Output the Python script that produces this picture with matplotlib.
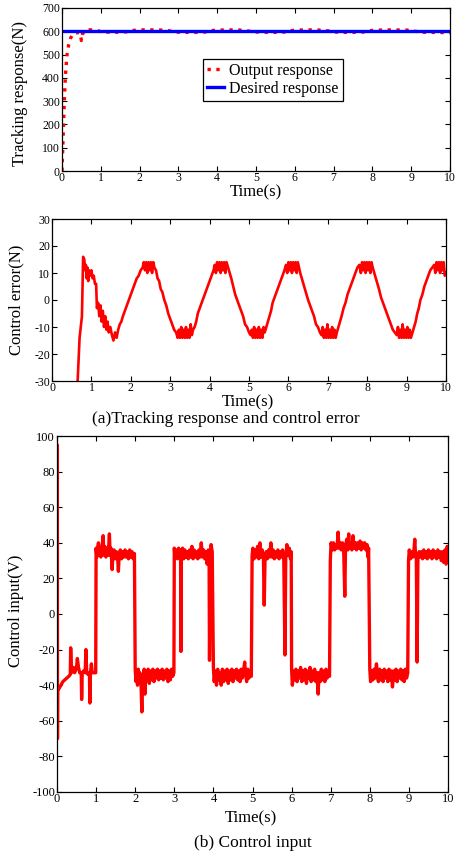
"""Tracking response, control error and control input (three stacked panels)."""

import matplotlib
matplotlib.use("Agg")
import matplotlib.pyplot as plt
import numpy as np

plt.rcParams["font.family"] = ["Liberation Serif", "DejaVu Serif"]
plt.rcParams["axes.unicode_minus"] = False

# ---- (a) tracking response -------------------------------------------------
resp_t = [0.00, 0.02, 0.04, 0.06, 0.08, 0.10, 0.13, 0.17, 0.22, 0.28, 0.35, 0.42,
          0.47, 0.50, 0.53, 0.58, 0.65, 0.70, 0.80, 0.90, 1.00, 1.20, 1.50, 1.70,
          1.80, 2.00, 2.40, 2.60, 2.80, 3.00, 3.40, 3.70, 3.80, 4.00, 4.40, 4.60,
          4.80, 5.00, 5.40, 5.80, 5.90, 6.00, 6.40, 6.70, 6.90, 7.00, 7.40, 7.80,
          7.90, 8.10, 8.50, 8.90, 9.10, 9.30, 9.70, 10.00]
resp_y = [0, 100, 200, 300, 380, 440, 500, 540, 570, 588, 592, 595,
          592, 560, 590, 598, 602, 606, 606, 604, 598, 596, 596, 598,
          603, 606, 606, 605, 601, 596, 595, 597, 602, 605, 606, 605,
          601, 597, 595, 597, 602, 605, 606, 605, 601, 597, 595, 597,
          602, 605, 606, 605, 600, 596, 595, 594]
desired_t = [0.0, 10.0]
desired_y = [600, 600]

# ---- (a) control error -----------------------------------------------------
err_t = [0.62, 0.70, 0.76, 0.79, 0.82, 0.84, 0.86, 0.88, 0.90, 0.92, 0.94, 0.97,
         1.00, 1.03, 1.06, 1.09, 1.12, 1.14, 1.17, 1.20, 1.23, 1.26, 1.29, 1.32,
         1.35, 1.38, 1.41, 1.44, 1.48, 1.52, 1.56, 1.60, 1.64, 1.68, 1.72, 1.76,
         1.80, 1.85, 1.90, 1.95, 2.00, 2.05, 2.10, 2.15, 2.20, 2.25, 2.30, 2.33,
         2.36, 2.39, 2.42, 2.45, 2.48, 2.51, 2.54, 2.57, 2.60, 2.64, 2.68, 2.72,
         2.76, 2.80, 2.85, 2.90, 2.95, 3.00, 3.05, 3.10, 3.15, 3.19, 3.22, 3.25,
         3.28, 3.31, 3.34, 3.37, 3.40, 3.43, 3.46, 3.49, 3.52, 3.55, 3.58, 3.62,
         3.66, 3.70, 3.75, 3.80, 3.85, 3.90, 3.95, 4.00, 4.05, 4.10, 4.13, 4.16,
         4.19, 4.22, 4.25, 4.28, 4.31, 4.34, 4.37, 4.40, 4.43, 4.47, 4.51, 4.55,
         4.60, 4.65, 4.70, 4.75, 4.80, 4.85, 4.90, 4.95, 5.00, 5.04, 5.07, 5.10,
         5.13, 5.16, 5.19, 5.22, 5.25, 5.28, 5.31, 5.34, 5.37, 5.40, 5.44, 5.48,
         5.52, 5.56, 5.60, 5.65, 5.70, 5.75, 5.80, 5.85, 5.90, 5.94, 5.97, 6.00,
         6.03, 6.06, 6.09, 6.12, 6.15, 6.18, 6.21, 6.24, 6.27, 6.30, 6.34, 6.38,
         6.42, 6.46, 6.50, 6.55, 6.60, 6.65, 6.70, 6.75, 6.80, 6.84, 6.87, 6.90,
         6.93, 6.96, 6.99, 7.02, 7.05, 7.08, 7.11, 7.14, 7.17, 7.20, 7.23, 7.27,
         7.31, 7.35, 7.40, 7.45, 7.50, 7.55, 7.60, 7.65, 7.70, 7.75, 7.80, 7.84,
         7.87, 7.90, 7.93, 7.96, 7.99, 8.02, 8.05, 8.08, 8.11, 8.14, 8.18, 8.22,
         8.26, 8.30, 8.35, 8.40, 8.45, 8.50, 8.55, 8.60, 8.65, 8.70, 8.75, 8.78,
         8.81, 8.84, 8.87, 8.90, 8.93, 8.96, 8.99, 9.02, 9.05, 9.08, 9.11, 9.15,
         9.19, 9.23, 9.27, 9.31, 9.35, 9.40, 9.45, 9.50, 9.55, 9.60, 9.65, 9.70,
         9.73, 9.76, 9.79, 9.82, 9.85, 9.88, 9.91, 9.94, 9.97, 10.00]
err_y = [-40, -14, -6, 16, 15, 11, 13, 8, 12, 7, 11, 9,
         11, 8, 9, 6, 6, -3, -1, -6, -2, -8, -4, -10,
         -6, -11, -8, -12, -10, -13, -15, -12, -14, -11, -9, -8,
         -6, -4, -2, 0, 2, 4, 6, 8, 9, 11, 12, 14,
         11, 14, 10, 14, 11, 14, 10, 14, 12, 11, 8, 7,
         4, 3, 0, -2, -5, -7, -9, -11, -12, -14, -11, -14,
         -10, -14, -11, -14, -10, -14, -11, -14, -9, -13, -11, -10,
         -8, -5, -3, -1, 1, 3, 5, 7, 9, 11, 13, 10,
         14, 11, 14, 10, 14, 11, 14, 10, 14, 12, 10, 8,
         5, 2, 0, -2, -4, -6, -9, -10, -12, -13, -11, -14,
         -10, -14, -11, -14, -10, -14, -11, -14, -10, -12, -10, -8,
         -6, -4, -1, 1, 3, 5, 7, 9, 11, 13, 10, 14,
         11, 14, 10, 14, 11, 14, 10, 14, 12, 10, 8, 6,
         4, 2, 0, -2, -4, -6, -9, -10, -12, -13, -10, -14,
         -11, -14, -9, -14, -11, -14, -10, -14, -11, -14, -12, -10,
         -8, -6, -3, -1, 2, 4, 6, 8, 10, 12, 13, 10,
         14, 11, 14, 10, 14, 11, 14, 10, 14, 12, 10, 8,
         6, 4, 1, -1, -3, -5, -7, -9, -11, -12, -13, -10,
         -14, -11, -14, -9, -14, -11, -14, -10, -14, -11, -14, -12,
         -10, -8, -5, -3, 0, 2, 5, 7, 9, 11, 12, 13,
         10, 14, 11, 14, 10, 14, 11, 14, 9, 10]

# ---- (b) control input (pairs: time, volts) --------------------------------
u_start = [(0.000, 0), (0.003, 95), (0.008, 95), (0.012, -70), (0.018, -43),
           (0.05, -42), (0.10, -40), (0.15, -38), (0.20, -37), (0.25, -36),
           (0.30, -35), (0.34, -34), (0.35, -19), (0.37, -33), (0.42, -30),
           (0.45, -33), (0.50, -30), (0.52, -25), (0.55, -30), (0.58, -33),
           (0.62, -33), (0.63, -48), (0.645, -33), (0.68, -32), (0.72, -33),
           (0.74, -20), (0.76, -33), (0.80, -34), (0.83, -33), (0.84, -50),
           (0.855, -33), (0.88, -28), (0.90, -33), (0.95, -33), (0.99, -33)]
u_high_1 = [(1.00, 37), (1.02, 32), (1.04, 37), (1.06, 40), (1.08, 33), (1.10, 38),
            (1.12, 32), (1.15, 37), (1.18, 44), (1.20, 33), (1.22, 38), (1.25, 32),
            (1.28, 37), (1.31, 33), (1.34, 45), (1.36, 33), (1.38, 37), (1.41, 25),
            (1.43, 33), (1.46, 36), (1.49, 31), (1.52, 35), (1.55, 32), (1.57, 24),
            (1.59, 33), (1.62, 36), (1.65, 31), (1.68, 35), (1.71, 32), (1.74, 36),
            (1.77, 32), (1.80, 35), (1.83, 31), (1.86, 36), (1.89, 32), (1.92, 35),
            (1.95, 31), (1.98, 34)]
u_low_2 = [(2.00, -31), (2.02, -38), (2.04, -32), (2.06, -40), (2.08, -31),
           (2.10, -37), (2.12, -33), (2.15, -40), (2.17, -55), (2.19, -34),
           (2.21, -38), (2.23, -31), (2.25, -45), (2.27, -33), (2.30, -37),
           (2.33, -31), (2.36, -39), (2.39, -32), (2.42, -37), (2.45, -31),
           (2.48, -38), (2.51, -32), (2.54, -36), (2.57, -31), (2.60, -37),
           (2.63, -32), (2.66, -36), (2.69, -31), (2.72, -37), (2.75, -32),
           (2.78, -36), (2.81, -31), (2.84, -38), (2.87, -32), (2.90, -37),
           (2.93, -31), (2.96, -35), (2.99, -33)]
u_high_3 = [(3.00, 37), (3.02, 32), (3.05, 36), (3.08, 31), (3.11, 37), (3.14, 32),
            (3.16, 36), (3.17, -21), (3.18, 33), (3.21, 37), (3.24, 31), (3.27, 36),
            (3.30, 32), (3.33, 35), (3.36, 31), (3.39, 36), (3.42, 32), (3.45, 38),
            (3.48, 31), (3.51, 36), (3.54, 32), (3.57, 35), (3.60, 31), (3.63, 36),
            (3.66, 32), (3.69, 40), (3.72, 32), (3.75, 36), (3.78, 31), (3.81, 35),
            (3.84, 28), (3.87, 36), (3.89, 30), (3.90, -26), (3.92, 30), (3.94, 39),
            (3.97, 35)]
u_low_4 = [(4.00, -30), (4.02, -38), (4.05, -32), (4.08, -40), (4.11, -31),
           (4.14, -37), (4.17, -33), (4.20, -40), (4.23, -31), (4.26, -38),
           (4.29, -32), (4.32, -37), (4.35, -31), (4.38, -39), (4.41, -32),
           (4.44, -37), (4.47, -31), (4.50, -38), (4.53, -32), (4.56, -36),
           (4.59, -31), (4.62, -37), (4.65, -32), (4.68, -38), (4.71, -31),
           (4.74, -36), (4.77, -32), (4.80, -27), (4.82, -33), (4.85, -38),
           (4.88, -31), (4.91, -36), (4.94, -32), (4.97, -35)]
u_high_5 = [(4.99, 33), (5.01, 37), (5.04, 31), (5.07, 36), (5.10, 32), (5.13, 38),
            (5.16, 31), (5.19, 40), (5.22, 32), (5.25, 36), (5.28, 31), (5.30, 5),
            (5.32, 30), (5.35, 35), (5.38, 31), (5.41, 36), (5.44, 32), (5.47, 40),
            (5.50, 32), (5.53, 36), (5.56, 31), (5.59, 35), (5.62, 32), (5.65, 36),
            (5.68, 31), (5.71, 35), (5.74, 32), (5.77, 36), (5.80, 31), (5.83, -23),
            (5.85, 31), (5.88, 39), (5.91, 33), (5.94, 37), (5.97, 31), (5.99, 35)]
u_low_6 = [(6.00, -31), (6.02, -40), (6.05, -32), (6.08, -37), (6.11, -31),
           (6.14, -38), (6.17, -32), (6.20, -36), (6.23, -30), (6.26, -38),
           (6.29, -32), (6.32, -37), (6.35, -31), (6.38, -39), (6.41, -32),
           (6.44, -36), (6.47, -30), (6.50, -38), (6.53, -32), (6.56, -37),
           (6.59, -31), (6.62, -38), (6.65, -33), (6.68, -45), (6.70, -33),
           (6.73, -38), (6.76, -31), (6.79, -37), (6.82, -32), (6.85, -38),
           (6.88, -31), (6.91, -36), (6.94, -32), (6.97, -35)]
u_high_7 = [(6.99, 30), (7.01, 40), (7.04, 36), (7.07, 40), (7.10, 36), (7.13, 39),
            (7.16, 37), (7.19, 46), (7.21, 37), (7.24, 40), (7.27, 36), (7.30, 40),
            (7.33, 38), (7.36, 10), (7.38, 38), (7.41, 42), (7.44, 36), (7.46, 45),
            (7.48, 37), (7.51, 40), (7.54, 36), (7.57, 44), (7.60, 37), (7.63, 40),
            (7.66, 36), (7.69, 40), (7.72, 37), (7.75, 41), (7.78, 36), (7.81, 40),
            (7.84, 37), (7.87, 40), (7.90, 36), (7.93, 39), (7.95, 32), (7.97, 37)]
u_low_8 = [(8.00, -31), (8.02, -38), (8.05, -32), (8.08, -37), (8.11, -31),
           (8.14, -36), (8.17, -28), (8.19, -33), (8.22, -38), (8.25, -31),
           (8.28, -37), (8.31, -32), (8.34, -38), (8.37, -31), (8.40, -36),
           (8.43, -32), (8.46, -38), (8.49, -31), (8.52, -37), (8.55, -32),
           (8.58, -41), (8.61, -32), (8.64, -37), (8.67, -31), (8.70, -38),
           (8.73, -32), (8.76, -36), (8.79, -31), (8.82, -37), (8.85, -32),
           (8.88, -38), (8.91, -31), (8.94, -36), (8.97, -33)]
u_high_9 = [(8.99, 30), (9.01, 36), (9.04, 31), (9.07, 35), (9.10, 32), (9.13, 36),
            (9.15, 42), (9.17, 33), (9.19, 31), (9.21, -27), (9.23, 31), (9.26, 35),
            (9.29, 32), (9.32, 35), (9.35, 31), (9.38, 36), (9.41, 32), (9.44, 35),
            (9.47, 31), (9.50, 36), (9.53, 32), (9.56, 35), (9.59, 31), (9.62, 36),
            (9.65, 32), (9.68, 35), (9.71, 31), (9.74, 36), (9.77, 32), (9.80, 35),
            (9.83, 30), (9.86, 35), (9.89, 29), (9.92, 36), (9.95, 28), (9.98, 38),
            (10.00, 33)]

x_ticks = list(range(0, 11))


def style_axes(ax, size):
    ax.tick_params(direction="in", top=True, right=True, length=3.5, width=0.8,
                   labelsize=size, pad=1.5)
    ax.tick_params(axis="x", pad=0.5)
    for s in ax.spines.values():
        s.set_linewidth(0.9)
    ax.set_xticks(x_ticks)
    ax.set_xlim(0, 10)


fig = plt.figure(figsize=(4.55, 8.57), dpi=100)
W, H = 455.0, 857.0


def px_axes(l, t, r, b):
    return fig.add_axes([l / W, 1 - b / H, (r - l) / W, (b - t) / H])


# panel 1
ax1 = px_axes(62, 8, 450, 171)
ax1.plot(resp_t, resp_y, color="red", linestyle=":", linewidth=2.4, label="Output response")
ax1.plot(desired_t, desired_y, color="blue", linewidth=2.4, label="Desired response")
ax1.set_ylim(0, 700)
ax1.set_yticks(range(0, 701, 100))
style_axes(ax1, 8.5)
leg = ax1.legend(loc="upper left", bbox_to_anchor=(0.363, 0.69), fontsize=11.5,
                 fancybox=False, framealpha=1, edgecolor="black", handlelength=1.1,
                 handletextpad=0.3, borderpad=0.25, labelspacing=0.15, borderaxespad=0)
leg.get_frame().set_linewidth(0.9)
fig.text(256 / W, 1 - 192 / H, "Time(s)", ha="center", va="center", fontsize=12)
fig.text(20 / W, 1 - 93 / H, "Tracking response(N)", ha="center", va="center",
         rotation=90, fontsize=12)

# panel 2
ax2 = px_axes(52, 219, 446, 381)
ax2.plot(err_t, err_y, color="red", linewidth=1.9)
ax2.set_ylim(-30, 30)
ax2.set_yticks(range(-30, 31, 10))
style_axes(ax2, 8.5)
fig.text(248 / W, 1 - 402 / H, "Time(s)", ha="center", va="center", fontsize=12)
fig.text(16 / W, 1 - 300 / H, "Control error(N)", ha="center", va="center",
         rotation=90, fontsize=12)
fig.text(226 / W, 1 - 419 / H, "(a)Tracking response and control error",
         ha="center", va="center", fontsize=12.5)

# panel 3
u_all = (u_start + u_high_1 + u_low_2 + u_high_3 + u_low_4 + u_high_5
         + u_low_6 + u_high_7 + u_low_8 + u_high_9)
u_t = np.array([p[0] for p in u_all])
u_v = np.array([p[1] for p in u_all])
ax3 = px_axes(57, 436, 448, 792)
ax3.plot(u_t, u_v, color="red", linewidth=2.4)
ax3.set_ylim(-100, 100)
ax3.set_yticks(range(-100, 101, 20))
style_axes(ax3, 9)
fig.text(251 / W, 1 - 818 / H, "Time(s)", ha="center", va="center", fontsize=12)
fig.text(16 / W, 1 - 611 / H, "Control input(V)", ha="center", va="center",
         rotation=90, fontsize=12)
fig.text(253 / W, 1 - 843 / H, "(b) Control input", ha="center", va="center",
         fontsize=12.5)

fig.savefig("out.png", dpi=100)
